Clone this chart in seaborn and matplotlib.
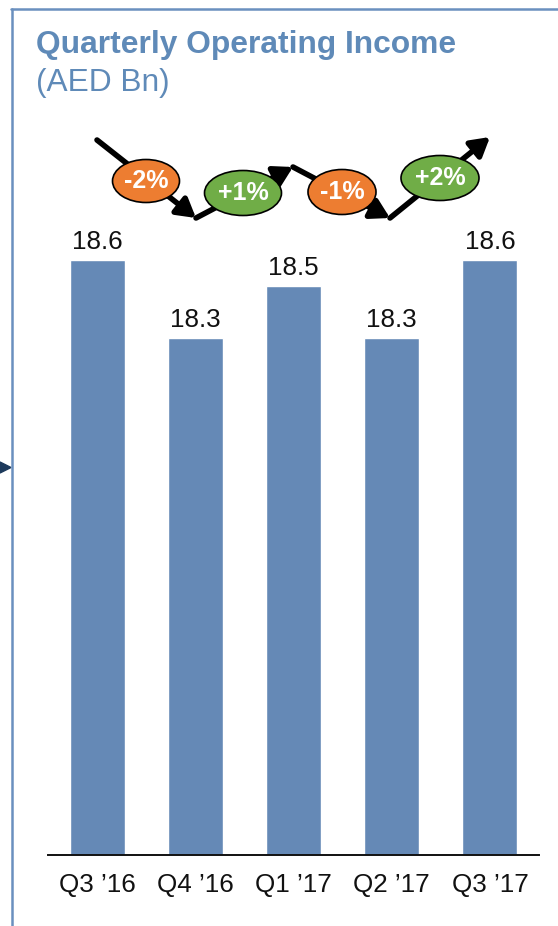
import matplotlib
matplotlib.use("Agg")
import matplotlib.pyplot as plt
import seaborn as sns
import pandas as pd
from matplotlib.patches import Ellipse, FancyArrowPatch, Polygon
from matplotlib.lines import Line2D

# Data
quarters = ["Q3 \u201916", "Q4 \u201916", "Q1 \u201917", "Q2 \u201917", "Q3 \u201917"]
income = [18.6, 18.3, 18.5, 18.3, 18.6]
change_labels = ["-2%", "+1%", "-1%", "+2%"]

BAR = "#6589b6"
TITLE = "#5f8ab8"
ORANGE = "#ed7d31"
GREEN = "#70ad47"
W, H = 558, 926

sns.set_theme(style="white")
plt.rcParams["font.family"] = ["Liberation Sans", "DejaVu Sans"]

fig = plt.figure(figsize=(W / 100, H / 100), dpi=100)


def fx(x):
    return x / W


def fy(y):
    return 1 - y / H


# Axes box in pixels (left, top, right, bottom)
L, T, R, B = 48, 120, 539, 855
ax = fig.add_axes([fx(L), fy(B), fx(R) - fx(L), fy(T) - fy(B)])

df = pd.DataFrame({"quarter": quarters, "income": income})
sns.barplot(data=df, x="quarter", y="income", color=BAR, width=0.56,
            saturation=1, ax=ax)

ymin = 16.31
ppu = 260.0
ax.set_ylim(ymin, ymin + (B - T) / ppu)
ax.set_xlim(-0.5, 4.5)

for c in ax.containers:
    ax.bar_label(c, labels=[f"{v:.1f}" for v in income], padding=4,
                 fontsize=18.7, color="#111111")

ax.set_xlabel("")
ax.set_ylabel("")
ax.set_yticks([])
for s in ["top", "left", "right"]:
    ax.spines[s].set_visible(False)
ax.spines["bottom"].set_color("#111111")
ax.spines["bottom"].set_linewidth(1.4)
ax.tick_params(axis="x", length=0, pad=13, labelsize=18.7, labelcolor="#111111")

# Frame lines
fig.add_artist(Line2D([fx(11.5), fx(11.5)], [fy(9), fy(H)], color="#6a90bf", lw=1.8))
fig.add_artist(Line2D([fx(11), fx(W)], [fy(9), fy(9)], color="#6a90bf", lw=1.8))
fig.add_artist(Polygon([[fx(0), fy(462)], [fx(11), fy(467.5)], [fx(0), fy(473)]],
                       closed=True, color="#1d3a5c", transform=fig.transFigure))

# Title
fig.text(fx(36), fy(45), "Quarterly Operating Income", color=TITLE,
         fontsize=22.9, fontweight="bold", va="center", ha="left")
fig.text(fx(36), fy(83), "(AED Bn)", color=TITLE, fontsize=22.8,
         va="center", ha="left")

# Trend arrows between quarters
segments = [((97, 140), (196, 218)), ((196, 218), (293, 167)),
            ((293, 167), (390, 218)), ((390, 218), (490, 137))]
for (x0, y0), (x1, y1) in segments:
    fig.add_artist(FancyArrowPatch((fx(x0), fy(y0)), (fx(x1), fy(y1)),
                                   transform=fig.transFigure,
                                   arrowstyle="-|>,head_length=0.55,head_width=0.32",
                                   mutation_scale=20, lw=4, color="black",
                                   shrinkA=0, shrinkB=0, zorder=3))

bubbles = [(146, 181, 67, 43), (243, 193, 77, 45), (342, 192, 68, 45), (440, 178, 78, 45)]
colors = [ORANGE, GREEN, ORANGE, GREEN]
for (cx, cy, w, h), lab, col in zip(bubbles, change_labels, colors):
    fig.add_artist(Ellipse((fx(cx), fy(cy)), w / W, h / H, transform=fig.transFigure,
                           facecolor=col, edgecolor="black", lw=1.2, zorder=4))
    fig.text(fx(cx), fy(cy), lab, color="white", fontsize=18, fontweight="bold",
             ha="center", va="center", zorder=5)

fig.savefig("out.png", dpi=100)
